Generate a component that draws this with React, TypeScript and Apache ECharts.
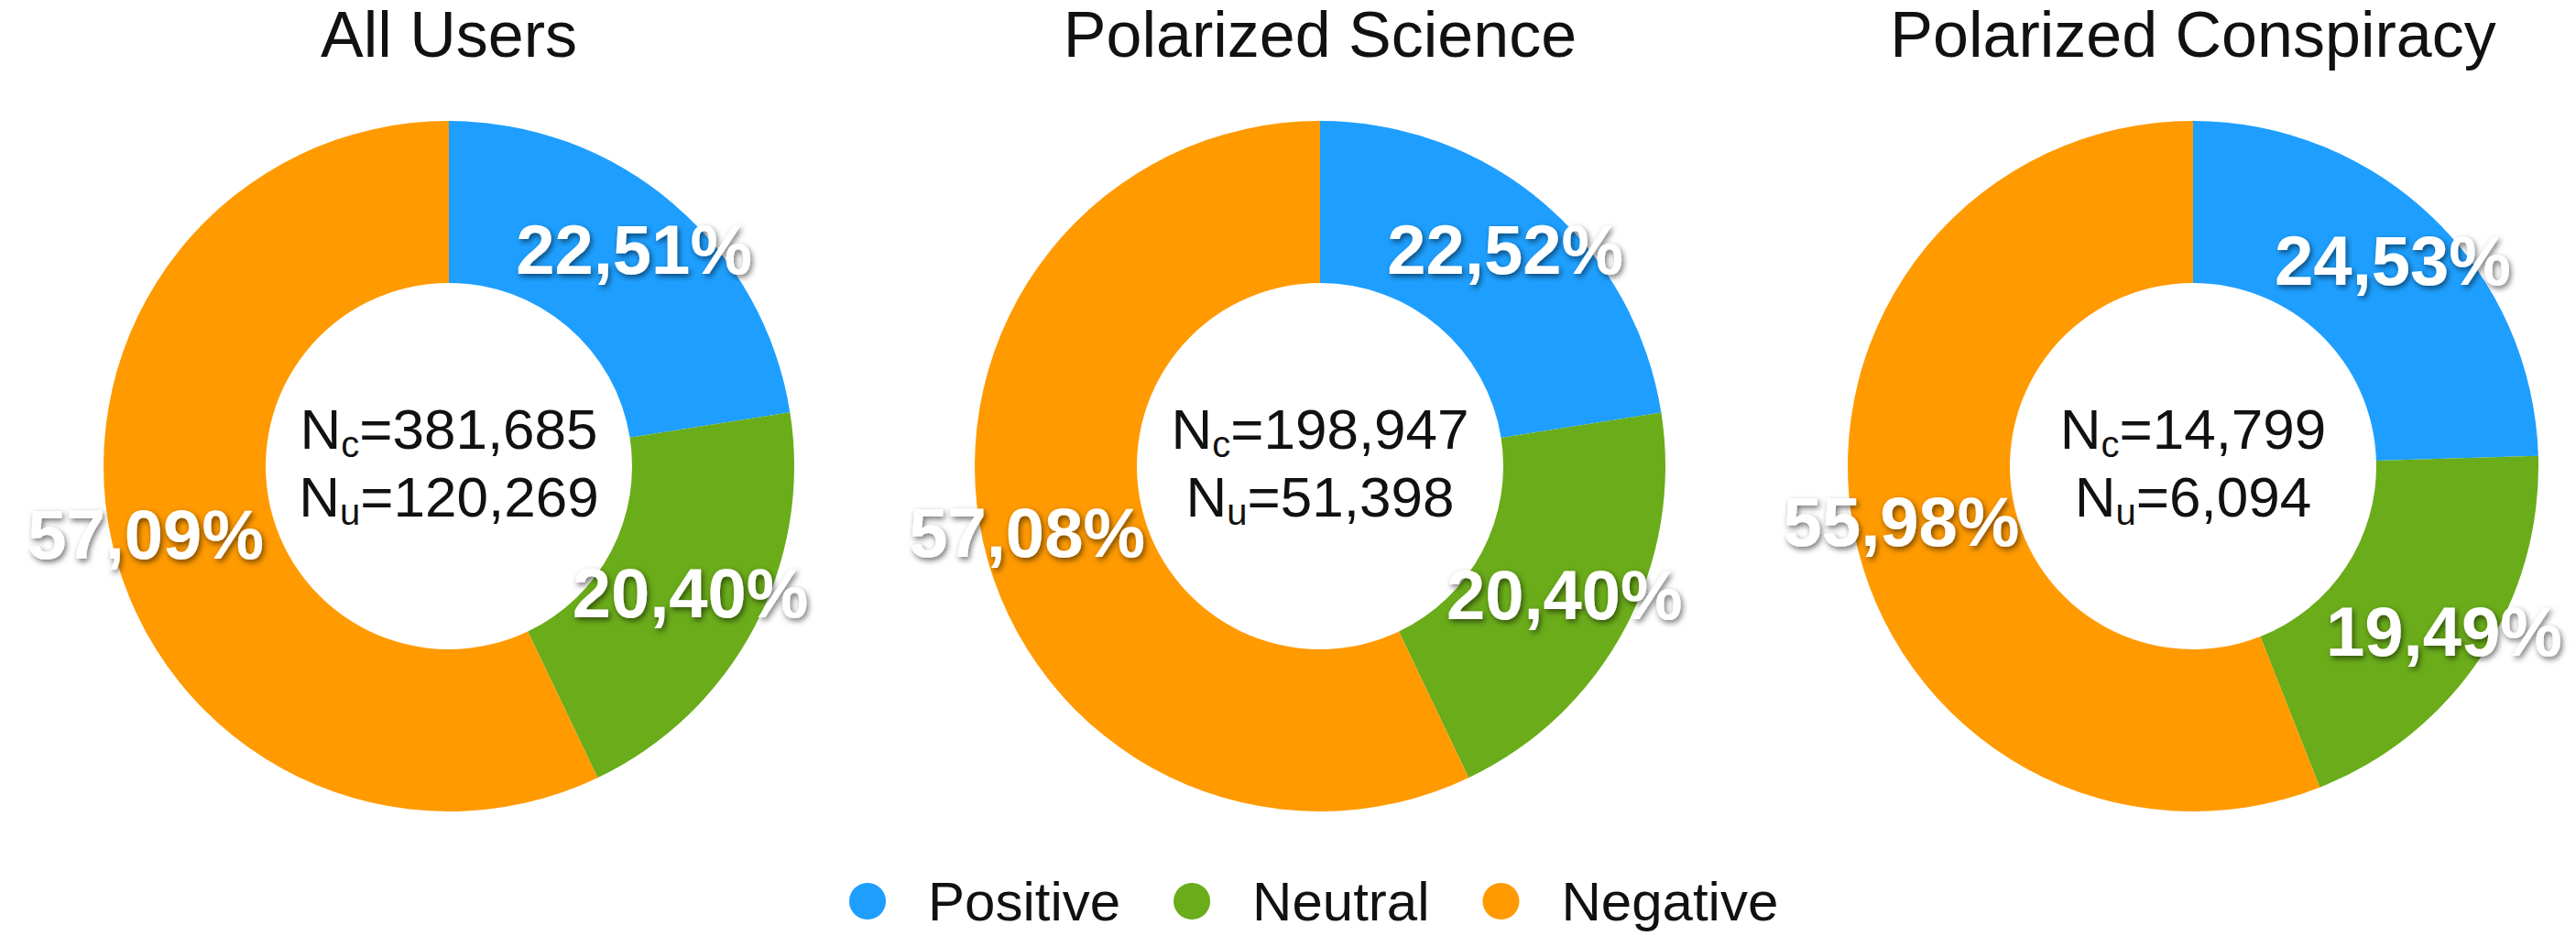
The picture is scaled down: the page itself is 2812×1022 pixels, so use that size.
import React, { useEffect, useRef } from 'react';
import * as echarts from 'echarts';

// ---- data ----
const categories = ['Positive', 'Neutral', 'Negative'];
const panelTitles = ['All Users', 'Polarized Science', 'Polarized Conspiracy'];
const allUsersShare = [22.51, 20.40, 57.09];
const scienceShare = [22.52, 20.40, 57.08];
const conspiracyShare = [24.53, 19.49, 55.98];
const commentCounts = ['381,685', '198,947', '14,799'];
const userCounts = ['120,269', '51,398', '6,094'];

const shares = [allUsersShare, scienceShare, conspiracyShare];

// ---- style / layout ----
const COLORS = ['#1E9FFF', '#6AAC1A', '#FF9A00'];
const FONT = '"Liberation Sans", Arial, Helvetica, sans-serif';
const W = 2812;
const H = 1022;
const CX = [490, 1441, 2394];
const CY = 509;
const R_OUT = 377;
const R_IN = 200;
const LABEL_R = [
  [0.825, 0.79, 0.9],
  [0.825, 0.8, 0.87],
  [0.83, 0.87, 0.86],
];

export default function App() {
  const ref = useRef<HTMLDivElement>(null);

  useEffect(() => {
    document.body.style.margin = '0';
    if (!ref.current) return;
    const chart = echarts.init(ref.current, undefined, { renderer: 'svg' });

    const series = shares.map((share, i) => ({
      type: 'pie',
      center: [CX[i], CY],
      radius: [R_IN, R_OUT],
      startAngle: 90,
      clockwise: true,
      silent: true,
      emphasis: { disabled: true },
      data: categories.map((name, j) => ({ name, value: share[j] })),
      label: {
        show: true,
        position: 'inside',
        formatter: (p: any) => Number(p.value).toFixed(2).replace('.', ',') + '%',
        color: '#ffffff',
        fontSize: 76,
        fontWeight: 'bold',
        fontFamily: FONT,
        textShadowColor: 'rgba(0,0,0,0.55)',
        textShadowBlur: 6,
        textShadowOffsetX: 2,
        textShadowOffsetY: 3,
      },
      labelLine: { show: false },
      labelLayout: (params: any) => {
        const r = params.labelRect;
        const lx = r.x + r.width / 2;
        const ly = r.y + r.height / 2;
        const dx = lx - CX[i];
        const dy = ly - CY;
        const d = Math.hypot(dx, dy) || 1;
        const k = (R_OUT * LABEL_R[i][params.dataIndex]) / d;
        return {
          x: CX[i] + dx * k,
          y: CY + dy * k,
          align: 'center',
          verticalAlign: 'middle',
        };
      },
    }));

    const graphics: any[] = [];
    panelTitles.forEach((t, i) => {
      graphics.push({
        type: 'text',
        x: CX[i],
        y: 38,
        silent: true,
        style: {
          text: t,
          fill: '#111111',
          fontSize: 70,
          fontFamily: FONT,
          align: 'center',
          verticalAlign: 'middle',
        },
      });
      graphics.push({
        type: 'text',
        x: CX[i],
        y: 505,
        silent: true,
        style: {
          text: `{n|N}{s|c}{n|=${commentCounts[i]}}\n{n|N}{s|u}{n|=${userCounts[i]}}`,
          align: 'center',
          verticalAlign: 'middle',
          rich: {
            n: { fontSize: 62, lineHeight: 74, fill: '#111111', fontFamily: FONT },
            s: {
              fontSize: 40,
              lineHeight: 50,
              verticalAlign: 'bottom',
              fill: '#111111',
              fontFamily: FONT,
            },
          },
        },
      });
    });

    chart.setOption({
      animation: false,
      color: COLORS,
      backgroundColor: '#ffffff',
      legend: {
        data: categories,
        left: 927,
        top: 954,
        padding: 0,
        icon: 'circle',
        itemWidth: 40,
        itemHeight: 40,
        itemGap: 58,
        selectedMode: false,
        textStyle: {
          fontSize: 60,
          lineHeight: 60,
          color: '#111111',
          fontFamily: FONT,
          padding: [0, 0, 0, 41],
        },
      },
      graphic: graphics,
      series,
    });

    return () => chart.dispose();
  }, []);

  return <div ref={ref} style={{ width: W, height: H }} />;
}
